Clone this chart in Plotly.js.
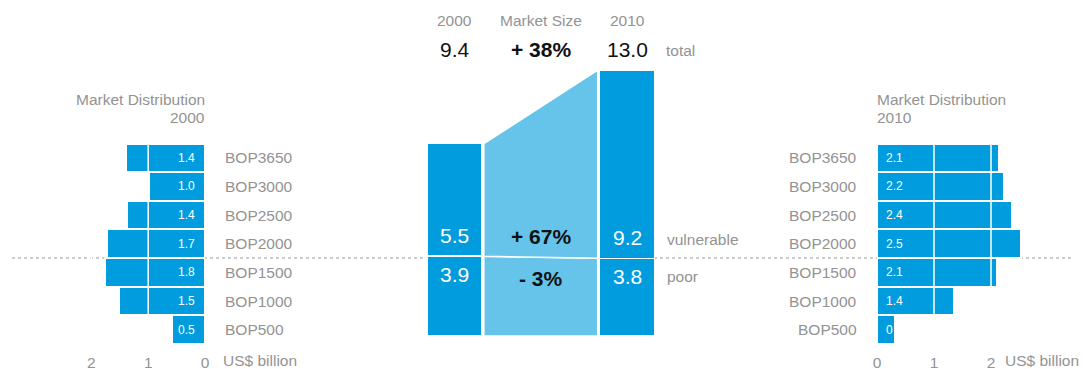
<!DOCTYPE html>
<html>
<head>
<meta charset="utf-8">
<script src="https://cdn.plot.ly/plotly-3.0.1.min.js"></script>
<style>html,body{margin:0;padding:0;background:#fff;}#chart{width:1083px;height:369px;}</style>
</head>
<body>
<div id="chart"></div>
<script>
// ---- data ----
const categories = ['BOP3650','BOP3000','BOP2500','BOP2000','BOP1500','BOP1000','BOP500'];
const dist2000 = [1.39, 0.99, 1.38, 1.72, 1.76, 1.51, 0.58];
const dist2010 = [2.14, 2.22, 2.37, 2.52, 2.10, 1.35, 0.32];
const labels2000 = ['1.4','1.0','1.4','1.7','1.8','1.5','0.5'];
const labels2010 = ['2.1','2.2','2.4','2.5','2.1','1.4','0'];
const years = ['2000', '2010'];
const poor = [3.9, 3.8];
const vulnerable = [5.5, 9.2];
const totals = [9.4, 13.0];
const distTicks = [0, 1, 2];
const segmentNames = ['vulnerable', 'poor', 'total'];

// ---- style ----
const W = 1083, H = 369;
const fx = px => px / W;
const fy = py => 1 - py / H;
const FONT = 'Liberation Sans, Arial, Helvetica, sans-serif';
const BLUE = '#019cde';
const LIGHT = '#66c3ea';
const GREY = '#939393';
const PXU = 20.46; // px per unit centre
const barPos = [0, 3];

function pct(a, b) {
  const v = Math.round((b - a) / a * 100);
  return (v >= 0 ? '+ ' : '- ') + Math.abs(v) + '%';
}

const traces = [];
// left distribution
traces.push({type:'bar', orientation:'h', x: dist2000, y: categories, xaxis:'x', yaxis:'y',
  marker:{color:BLUE, line:{color:'#fff', width:2}}, hoverinfo:'skip'});
// right distribution
traces.push({type:'bar', orientation:'h', x: dist2010, y: categories, xaxis:'x3', yaxis:'y3',
  marker:{color:BLUE, line:{color:'#fff', width:2}}, hoverinfo:'skip'});
// connectors
traces.push({type:'scatter', mode:'lines', xaxis:'x2', yaxis:'y2',
  x:[0.51, 2.49, 2.49, 0.51, 0.51], y:[0, 0, poor[1], poor[0], 0],
  fill:'toself', fillcolor:LIGHT, line:{color:'#fff', width:1.5}, hoverinfo:'skip'});
traces.push({type:'scatter', mode:'lines', xaxis:'x2', yaxis:'y2',
  x:[0.51, 2.49, 2.49, 0.51, 0.51], y:[poor[0], poor[1], totals[1], totals[0], poor[0]],
  fill:'toself', fillcolor:LIGHT, line:{color:'#fff', width:1.5}, hoverinfo:'skip'});
// centre stacked bars
traces.push({type:'bar', x: barPos, y: poor, width:[0.96,0.96], xaxis:'x2', yaxis:'y2',
  marker:{color:BLUE, line:{color:'#fff', width:1.5}}, hoverinfo:'skip'});
traces.push({type:'bar', x: barPos, y: vulnerable, width:[0.96,0.96], xaxis:'x2', yaxis:'y2',
  marker:{color:BLUE, line:{color:'#fff', width:1.5}}, hoverinfo:'skip'});

const ann = [];
const gfont = (s, c, b) => ({family: FONT, size: s, color: c || GREY, weight: b ? 'bold' : 'normal'});

// category labels
categories.forEach((c, i) => {
  ann.push({xref:'paper', yref:'y', x:fx(223), y:c, text:c, showarrow:false, xanchor:'left', yanchor:'middle', font:gfont(15.5)});
  ann.push({xref:'paper', yref:'y3', x:fx(859), y:c, text:c, showarrow:false, xanchor:'right', yanchor:'middle', font:gfont(15.5)});
  ann.push({xref:'x', yref:'y', x:0, y:c, text:labels2000[i], showarrow:false, xanchor:'right', xshift:-8, yanchor:'middle', font:gfont(12, '#fff')});
  ann.push({xref:'x3', yref:'y3', x:0, y:c, text:labels2010[i], showarrow:false, xanchor:'left', xshift:7, yanchor:'middle', font:gfont(12, '#fff')});
});

// titles for distributions
ann.push({xref:'paper', yref:'paper', x:fx(207), y:fy(100), text:'Market Distribution', showarrow:false, xanchor:'right', yanchor:'middle', font:gfont(15.5)});
ann.push({xref:'paper', yref:'paper', x:fx(207), y:fy(118), text:years[0], showarrow:false, xanchor:'right', yanchor:'middle', font:gfont(15.5)});
ann.push({xref:'paper', yref:'paper', x:fx(875), y:fy(100), text:'Market Distribution', showarrow:false, xanchor:'left', yanchor:'middle', font:gfont(15.5)});
ann.push({xref:'paper', yref:'paper', x:fx(875), y:fy(118), text:years[1], showarrow:false, xanchor:'left', yanchor:'middle', font:gfont(15.5)});
// unit labels
ann.push({xref:'paper', yref:'paper', x:fx(221), y:fy(360.5), text:'US$ billion', showarrow:false, xanchor:'left', yanchor:'middle', font:gfont(15.5)});
ann.push({xref:'paper', yref:'paper', x:fx(1003), y:fy(360.5), text:'US$ billion', showarrow:false, xanchor:'left', yanchor:'middle', font:gfont(15.5)});

// centre top
ann.push({xref:'x2', yref:'paper', x:barPos[0], y:fy(21), text:years[0], showarrow:false, yanchor:'middle', font:gfont(15.5)});
ann.push({xref:'x2', yref:'paper', x:1.5, y:fy(21), text:'Market Size', showarrow:false, yanchor:'middle', font:gfont(15.5)});
ann.push({xref:'x2', yref:'paper', x:barPos[1], y:fy(21), text:years[1], showarrow:false, yanchor:'middle', font:gfont(15.5)});
ann.push({xref:'x2', yref:'paper', x:barPos[0], y:fy(50), text:totals[0].toFixed(1), showarrow:false, yanchor:'middle', font:gfont(21, '#111')});
ann.push({xref:'x2', yref:'paper', x:1.5, y:fy(50), text:'<b>' + pct(totals[0], totals[1]) + '</b>', showarrow:false, yanchor:'middle', font:gfont(21, '#111', true)});
ann.push({xref:'x2', yref:'paper', x:barPos[1], y:fy(50), text:totals[1].toFixed(1), showarrow:false, yanchor:'middle', font:gfont(21, '#111')});
ann.push({xref:'paper', yref:'paper', x:fx(664), y:fy(51), text:segmentNames[2], showarrow:false, xanchor:'left', yanchor:'middle', font:gfont(15.5)});

// centre segment labels
for (let i = 0; i < 2; i++) {
  ann.push({xref:'x2', yref:'y2', x:barPos[i], y:poor[i], yshift:21, text:vulnerable[i].toFixed(1), showarrow:false, yanchor:'middle', font:gfont(21, '#fff')});
  ann.push({xref:'x2', yref:'y2', x:barPos[i], y:poor[i], yshift:-18, text:poor[i].toFixed(1), showarrow:false, yanchor:'middle', font:gfont(21, '#fff')});
}
ann.push({xref:'x2', yref:'y2', x:1.5, y:poor[0], yshift:20, text:'<b>' + pct(vulnerable[0], vulnerable[1]) + '</b>', showarrow:false, yanchor:'middle', font:gfont(21, '#111', true)});
ann.push({xref:'x2', yref:'y2', x:1.5, y:poor[0], yshift:-22, text:'<b>' + pct(poor[0], poor[1]) + '</b>', showarrow:false, yanchor:'middle', font:gfont(21, '#111', true)});
ann.push({xref:'paper', yref:'paper', x:fx(665), y:fy(239), text:segmentNames[0], showarrow:false, xanchor:'left', yanchor:'middle', font:gfont(15.5)});
ann.push({xref:'paper', yref:'paper', x:fx(665), y:fy(276), text:segmentNames[1], showarrow:false, xanchor:'left', yanchor:'middle', font:gfont(15.5)});

const shapes = [
  {type:'line', xref:'paper', yref:'paper', x0:fx(12), x1:fx(1071), y0:fy(258), y1:fy(258), layer:'below', line:{color:'#9a9a9a', width:1, dash:'dot'}},
];
distTicks.filter(t => t > 0).forEach(t => {
  shapes.push({type:'line', xref:'x', yref:'y domain', x0:t, x1:t, y0:0, y1:1, layer:'above', line:{color:'#fff', width:1.5}});
  shapes.push({type:'line', xref:'x3', yref:'y3 domain', x0:t, x1:t, y0:0, y1:1, layer:'above', line:{color:'#fff', width:1.5}});
});

const hiddenAxis = {showgrid:false, zeroline:false, showline:false, showticklabels:false, ticks:'', fixedrange:true};
const tickAxis = {showgrid:false, zeroline:false, showline:false, ticks:'', tickvals:distTicks, ticktext:distTicks.map(String), tickfont:{family:FONT, size:15.5, color:GREY}, ticklabelstandoff:7, fixedrange:true};

const layout = {
  width:W, height:H, margin:{l:0, r:0, t:0, b:0},
  paper_bgcolor:'#fff', plot_bgcolor:'rgba(0,0,0,0)',
  showlegend:false, barmode:'stack', bargap:0,
  font:{family:FONT},
  xaxis: Object.assign({}, tickAxis, {domain:[fx(60), fx(205)], range:[(205-60)/56.8, 0], anchor:'y'}),
  yaxis: Object.assign({}, hiddenAxis, {domain:[fy(344), fy(143.5)], type:'category', categoryorder:'array', categoryarray:categories, autorange:'reversed', anchor:'x'}),
  xaxis2: Object.assign({}, hiddenAxis, {domain:[fx(425.75), fx(655.75)], range:[-0.5, 3.5], anchor:'y2'}),
  yaxis2: Object.assign({}, hiddenAxis, {domain:[fy(336), fy(336 - 14*PXU)], range:[0, 14], anchor:'x2'}),
  xaxis3: Object.assign({}, tickAxis, {domain:[fx(877), fx(1050)], range:[0, 173/57], anchor:'y3'}),
  yaxis3: Object.assign({}, hiddenAxis, {domain:[fy(344), fy(143.5)], type:'category', categoryorder:'array', categoryarray:categories, autorange:'reversed', anchor:'x3'}),
  annotations: ann,
  shapes: shapes
};

Plotly.newPlot('chart', traces, layout, {displayModeBar:false, staticPlot:true});
</script>
</body>
</html>
